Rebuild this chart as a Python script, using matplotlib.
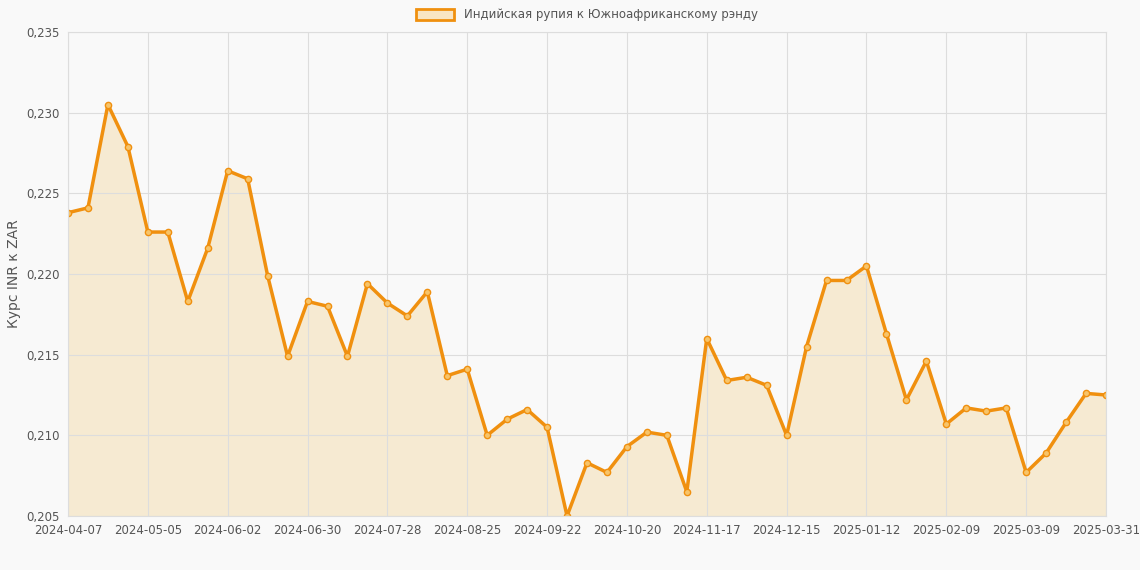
import matplotlib
matplotlib.use("Agg")
import matplotlib.pyplot as plt
import datetime as dt

start = dt.date(2024, 4, 7)
dates = [(start + dt.timedelta(weeks=i)).isoformat() for i in range(52)] + ["2025-03-31"]
values = [0.2238,0.2241,0.2305,0.2279,0.2226,0.2226,0.2183,0.2216,0.2264,0.2259,
          0.2199,0.2149,0.2183,0.2180,0.2149,0.2194,0.2182,0.2174,0.2189,0.2137,
          0.2141,0.2100,0.2110,0.2116,0.2105,0.2050,0.2083,0.2077,0.2093,0.2102,
          0.2100,0.2065,0.2160,0.2134,0.2136,0.2131,0.2100,0.2155,0.2196,0.2196,
          0.2205,0.2163,0.2122,0.2146,0.2107,0.2117,0.2115,0.2117,0.2077,0.2089,
          0.2108,0.2126,0.2125]
label = "Индийская рупия к Южноафриканскому рэнду"

fig = plt.figure(figsize=(11.4, 5.7), dpi=100, facecolor="#f9f9f9")
ax = fig.add_axes([68/1140, 1-516/570, (1106-68)/1140, (516-32)/570])
ax.set_facecolor("#f9f9f9")
x = list(range(len(values)))
ax.fill_between(x, values, 0.205, color="#f5deb3", alpha=0.55, lw=0)
ax.plot(x, values, color="#f0900f", lw=2.5, marker="o", ms=4.5,
        mfc="#f7c46a", mec="#f0900f", mew=1, label=label)
ax.set_xlim(0, len(values)-1)
ax.set_ylim(0.205, 0.235)
ax.set_yticks([0.205,0.21,0.215,0.22,0.225,0.23,0.235])
ax.set_yticklabels([f"{v:.3f}".replace(".", ",") for v in ax.get_yticks()])
ticks = list(range(0, 52, 4)) + [52]
ax.set_xticks(ticks)
ax.set_xticklabels([dates[i] for i in ticks])
ax.grid(True, color="#dddddd", lw=0.8)
for s in ax.spines.values():
    s.set_color("#dddddd")
ax.tick_params(colors="#555555", labelsize=8.5, length=0, pad=6)
ax.set_ylabel("Курс INR к ZAR", color="#555555", fontsize=10)
from matplotlib.patches import Patch
ax.legend(handles=[Patch(facecolor="#f9e5c4", edgecolor="#f0900f", lw=2, label=label)],
          loc="lower center", bbox_to_anchor=(0.5, 1.0), frameon=False, fontsize=8.5,
          labelcolor="#555555", handlelength=3.2, handleheight=1.0)
fig.savefig("out.png", dpi=100, facecolor=fig.get_facecolor())
